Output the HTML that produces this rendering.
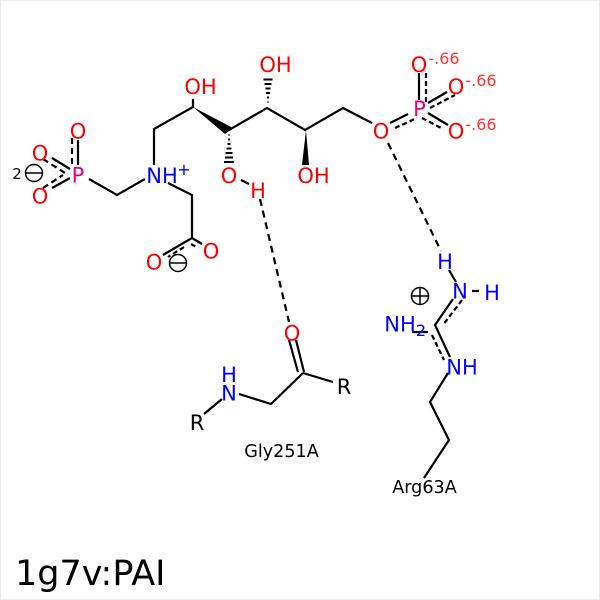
<!DOCTYPE html>
<html><head><meta charset="utf-8"><style>
html,body{margin:0;padding:0;background:#fff}
svg{display:block}
text{font-family:"DejaVu Sans",sans-serif;text-anchor:middle}
.o{fill:#f00}.n{fill:#00f}.p{fill:#e6007e}.k{fill:#000}
</style></head><body>
<svg width="600" height="600" viewBox="0 0 600 600" xmlns="http://www.w3.org/2000/svg">
<rect width="600" height="600" fill="#fff"/>
<rect x="0.5" y="0.5" width="599" height="599" fill="none" stroke="#eee"/>
<g fill="none" stroke="#000" stroke-width="2.2">
<!-- left phosphonate -->
<path d="M78 140V165M52 158L70 169M52 188L70 178"/>
<path d="M72 138V167M43 159L65 173M43 188L63 175" stroke-dasharray="6 4"/>
<path d="M89 179L117 195L145 179M154 165V129L193 107M168 183L192 195V238L163 255M192 238L202 244"/>
<!-- carboxylate dashed -->
<path d="M184 247L168 257M191 244L198 248" stroke-dasharray="5 3"/>
<!-- chain -->
<path d="M193 108V99M229 130L267 108L305 130L343 108L372 123"/>
<!-- right phosphate -->
<path d="M419 73V100M428 103L447 92M428 113L448 125M390 123L408 114"/>
<path d="M426 73V102M430 108L455 95M422 118L443 129M395 128L417 118" stroke-dasharray="5 3"/>
<!-- H bonds -->
<path d="M241 180L249 184"/>
<path d="M260 199L289 322" stroke-dasharray="7 5"/>
<path d="M388 143L441 251" stroke-dasharray="7 5"/>
<!-- Gly -->
<path d="M289 340L298 372M296 340L304 372M303 373L333 382M303 373L271 404L239 394M222 399L204 414"/>
<!-- Arg -->
<path d="M449 270L456 282M472 291H479M453 299L435 325L450 357M448 373L430 402L449 440L424 478M412 332H428"/>
<path d="M462 300L443 325M432 335L444 360" stroke-dasharray="5 3"/>
</g>
<!-- wedges -->
<polygon points="193,107 233,128 225,134" fill="#000"/>
<polygon points="306,130 302,165 309,165" fill="#000"/>
<g stroke="#000" stroke-width="2">
<path d="M228.500 135h1M228 139.500h2M227.500 144h3M226.500 148.500h5M225.500 153h7M225 157.500h8M224 162h10"/>
<path d="M267.500 102h1M267 97.500h2M266 93h4M265.500 88.500h5M264.500 84h7M263.500 79.500h9"/>
</g>
<!-- charges -->
<g fill="none" stroke="#000" stroke-width="1.5">
<circle cx="34" cy="173" r="8.500"/><path d="M26 173H42"/>
<circle cx="178" cy="263" r="8.500"/><path d="M170 263H186"/>
<circle cx="420" cy="296" r="8.500"/><path d="M411 296H429M420 287V305"/>
</g>
<!-- labels -->
<g font-size="21">
<text x="78" y="138.500" class="o">O</text>
<text x="40" y="160.500" class="o">O</text>
<text x="40" y="203.500" class="o">O</text>
<text x="78" y="182.500" class="p">P</text>
<text x="162" y="183" class="n">NH</text>
<text x="154" y="269.500" class="o">O</text>
<text x="211" y="258.500" class="o">O</text>
<text x="200.500" y="94" class="o">OH</text>
<text x="275.500" y="72" class="o">OH</text>
<text x="229" y="183" class="o">O</text>
<text x="258" y="198" class="o">H</text>
<text x="313.500" y="183" class="o">OH</text>
<text x="381" y="138.500" class="o">O</text>
<text x="419.500" y="116" class="p">P</text>
<text x="419" y="72" class="o">O</text>
<text x="456" y="94" class="o">O</text>
<text x="456" y="138.500" class="o">O</text>
<text x="445" y="269" class="n">H</text>
<text x="460" y="298.500" class="n">N</text>
<text x="492" y="300" class="n">H</text>
<text x="400" y="331.500" class="n">NH</text>
<text x="462" y="374.500" class="n">NH</text>
<text x="292" y="340.500" class="o">O</text>
<text x="229" y="382" class="n">H</text>
<text x="229" y="400.500" class="n">N</text>
<text x="344" y="394" class="k">R</text>
<text x="197" y="430" class="k">R</text>
</g>
<text x="184" y="175" font-size="16" class="n">+</text>
<text x="17" y="179" font-size="15" class="k">2</text>
<text x="421" y="336" font-size="16" class="n">2</text>
<g font-size="16" fill="#f33">
<text x="444" y="64">-.66</text>
<text x="481" y="86">-.66</text>
<text x="481" y="130">-.66</text>
</g>
<text x="281.500" y="457" font-size="17.600" class="k">Gly251A</text>
<text x="424.500" y="493" font-size="17.600" class="k">Arg63A</text>
<text x="15" y="585" font-size="35" class="k" style="text-anchor:start">1g7v:PAI</text>
</svg>
</body></html>
